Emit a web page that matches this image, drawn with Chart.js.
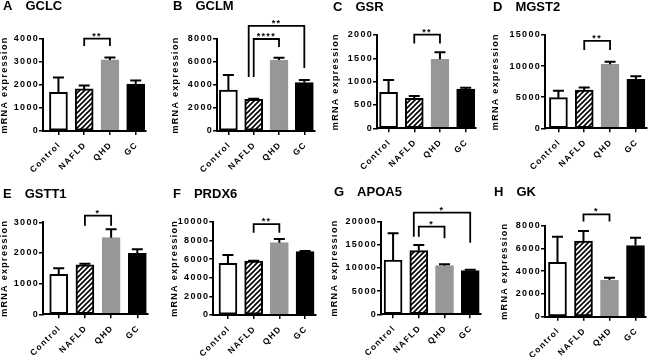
<!DOCTYPE html>
<html>
<head>
<meta charset="utf-8">
<script src="https://cdn.jsdelivr.net/npm/chart.js@4.4.1/dist/chart.umd.min.js"></script>
<style>
  html, body { margin: 0; padding: 0; background: #fff; overflow: hidden; }
  body { width: 650px; height: 357px; position: relative; }
  canvas { position: absolute; }
</style>
</head>
<body>
<script>
const groups = ['Control', 'NAFLD', 'QHD', 'GC'];
const letters = ['A', 'B', 'C', 'D', 'E', 'F', 'G', 'H'];
const genes = ['GCLC', 'GCLM', 'GSR', 'MGST2', 'GSTT1', 'PRDX6', 'APOA5', 'GK'];

// bar heights (mean) and the top of each error bar
const gclcMean = [1680, 1830, 3090, 2040],   gclcErr = [2330, 1980, 3200, 2200];
const gclmMean = [3560, 2750, 6170, 4200],   gclmErr = [4870, 2810, 6380, 4430];
const gsrMean = [771, 643, 1479, 843],       gsrErr = [1036, 693, 1629, 871];
const mgst2Mean = [4930, 6160, 10290, 7880], mgst2Err = [6050, 6540, 10710, 8360];
const gstt1Mean = [1300, 1610, 2500, 1990],  gstt1Err = [1500, 1650, 2770, 2120];
const prdx6Mean = [5540, 5790, 7750, 6790],  prdx6Err = [6430, 5820, 8140, 6860];
const apoa5Mean = [11730, 13740, 10500, 9420], apoa5Err = [17480, 14960, 10790, 9640];
const gkMean = [4780, 6650, 3225, 6250],     gkErr = [7030, 7540, 3430, 6950];

// y axis range and tick step
const yMax = [4000, 8000, 2000, 15000, 3000, 10000, 20000, 8000];
const yStep = [1000, 2000, 500, 5000, 1000, 2000, 5000, 2000];

// significance brackets: [from group, to group, bar level, left leg end, right leg end, stars]
const gclcSig = [[1, 2, 4020, 3700, 3700, '**']];
const gclmSig = [[1, 2, 8000, 4700, 7300, '****'], [1, 3, 9150, 4700, 5480, '**']];
const gsrSig = [[1, 2, 2010, 1820, 1820, '**']];
const mgst2Sig = [[1, 2, 14040, 12590, 12590, '**']];
const gstt1Sig = [[1, 2, 3220, 2890, 2890, '*']];
const prdx6Sig = [[1, 2, 9750, 8820, 8820, '**']];
const apoa5Sig = [[1, 2, 18920, 16760, 16400, '*'], [1, 3, 21940, 16760, 15470, '*']];
const gkSig = [[1, 2, 9000, 8360, 8360, '*']];

const means = [gclcMean, gclmMean, gsrMean, mgst2Mean, gstt1Mean, prdx6Mean, apoa5Mean, gkMean];
const errs = [gclcErr, gclmErr, gsrErr, mgst2Err, gstt1Err, prdx6Err, apoa5Err, gkErr];
const sigs = [gclcSig, gclmSig, gsrSig, mgst2Sig, gstt1Sig, prdx6Sig, apoa5Sig, gkSig];

// where each panel sits on the page (px)
const boxes = [
  {left: 3,   top: 0,   h: 182, axis: 43,    plotTop: 39,    plotBottom: 131,   right: 146,   xmin: -0.6,  xmax: 3.4,  ytx: 5,   tty: 6.5},
  {left: 173, top: 0,   h: 182, axis: 217,   plotTop: 39,    plotBottom: 131,   right: 314.7, xmin: -0.45, xmax: 3.41, ytx: 176, tty: 6.5},
  {left: 333, top: 0,   h: 182, axis: 377,   plotTop: 35,    plotBottom: 128.3, right: 476.2, xmin: -0.45, xmax: 3.41, ytx: 336, tty: 7},
  {left: 493, top: 0,   h: 182, axis: 545,   plotTop: 35,    plotBottom: 128.3, right: 646.7, xmin: -0.52, xmax: 3.42, ytx: 496, tty: 7},
  {left: 3,   top: 175, h: 182, axis: 43,    plotTop: 222.3, plotBottom: 314.3, right: 147.8, xmin: -0.6,  xmax: 3.4,  ytx: 5,   tty: 194},
  {left: 173, top: 175, h: 182, axis: 213.3, plotTop: 221.7, plotBottom: 315,   right: 316.1, xmin: -0.57, xmax: 3.43, ytx: 175, tty: 194},
  {left: 334, top: 175, h: 182, axis: 381,   plotTop: 221.7, plotBottom: 314.3, right: 480.5, xmin: -0.47, xmax: 3.4,  ytx: 335, tty: 192},
  {left: 494, top: 175, h: 182, axis: 545,   plotTop: 225.7, plotBottom: 316.7, right: 645.9, xmin: -0.48, xmax: 3.4,  ytx: 505, tty: 192}
];

const FAMILY = '"Liberation Sans", Arial, sans-serif';
Chart.defaults.font.family = FAMILY;
Chart.defaults.color = '#000';

function hatch() {
  const c = document.createElement('canvas');
  c.width = 5; c.height = 5;
  const g = c.getContext('2d');
  g.fillStyle = '#fff';
  g.fillRect(0, 0, 5, 5);
  g.strokeStyle = '#000';
  g.lineWidth = 1.6;
  g.beginPath();
  g.moveTo(-1, 6); g.lineTo(6, -1);
  g.moveTo(-1, 1); g.lineTo(1, -1);
  g.moveTo(4, 6); g.lineTo(6, 4);
  g.stroke();
  return g.createPattern(c, 'repeat');
}
const stripes = hatch();

// error bars + significance brackets, placed through the scales
function marks(errTop, brackets) {
  return {
    id: 'marks',
    beforeDraw(chart) { chart.ctx.letterSpacing = '0px'; },
    afterDatasetsDraw(chart) {
      const {ctx, scales: {x, y}} = chart;
      const bars = chart.getDatasetMeta(0).data;
      ctx.save();
      ctx.strokeStyle = '#000';
      ctx.lineWidth = 2;
      bars.forEach((bar, i) => {
        const t = y.getPixelForValue(errTop[i]);
        ctx.beginPath();
        ctx.moveTo(bar.x, bar.y); ctx.lineTo(bar.x, t);
        ctx.moveTo(bar.x - 5.5, t); ctx.lineTo(bar.x + 5.5, t);
        ctx.stroke();
      });
      ctx.lineWidth = 1.8;
      ctx.letterSpacing = '1.3px';
      ctx.font = 'bold 9px ' + FAMILY;
      ctx.fillStyle = '#000';
      ctx.textAlign = 'center';
      ctx.textBaseline = 'alphabetic';
      brackets.forEach(s => {
        const [a, b, lvl, endA, endB, stars] = s;
        const nested = brackets.some(o => o !== s && o[0] === a && o[1] < b);
        const xa = x.getPixelForValue(a) - (nested ? 5 : 0);
        const xb = x.getPixelForValue(b);
        const yt = y.getPixelForValue(lvl);
        ctx.beginPath();
        ctx.moveTo(xa, y.getPixelForValue(endA));
        ctx.lineTo(xa, yt);
        ctx.lineTo(xb, yt);
        ctx.lineTo(xb, y.getPixelForValue(endB));
        ctx.stroke();
        ctx.fillText(stars, (xa + xb) / 2, yt);
      });
      ctx.restore();
      // axis text (drawn after the bars) gets the same wide spacing
      ctx.letterSpacing = '1.3px';
    }
  };
}

const tickFont = {size: 9, weight: 'bold'};

boxes.forEach((b, k) => {
  const plotW = b.right - b.left;
  const cw = Math.ceil(plotW + 9);
  const canvas = document.createElement('canvas');
  canvas.width = cw;
  canvas.height = b.h;
  canvas.style.left = (b.left - 3) + 'px';
  canvas.style.top = b.top + 'px';
  canvas.style.width = cw + 'px';
  canvas.style.height = b.h + 'px';
  document.body.appendChild(canvas);

  const padTop = b.tty - b.top - 6.5;

  new Chart(canvas, {
    type: 'bar',
    data: {
      datasets: [{
        data: means[k].map((v, i) => ({x: i, y: v})),
        backgroundColor: ['#fff', stripes, '#979797', '#000'],
        borderColor: ['#000', '#000', '#979797', '#000'],
        borderWidth: 2,
        borderSkipped: false,
        barThickness: 18
      }]
    },
    options: {
      responsive: false,
      animation: false,
      devicePixelRatio: 1,
      layout: {padding: {left: 3, top: 0, bottom: 0, right: cw - plotW - 3}},
      plugins: {
        legend: {display: false},
        tooltip: {enabled: false},
        title: {
          display: true,
          text: letters[k] + '\u2002\u2002' + genes[k],
          align: 'start',
          color: '#000',
          font: {size: 13, weight: 'bold', lineHeight: 1},
          padding: {top: padTop, bottom: b.plotTop - b.top - padTop - 13}
        }
      },
      scales: {
        x: {
          type: 'linear',
          offset: false,
          min: b.xmin,
          max: b.xmax,
          afterBuildTicks: s => { s.ticks = groups.map((g, i) => ({value: i})); },
          afterFit: s => { s.height = b.top + b.h - b.plotBottom; },
          grid: {offset: false, drawOnChartArea: false, tickLength: 4, color: '#000', lineWidth: 1.5, z: 1},
          border: {color: '#000', width: 2, z: 1},
          ticks: {
            autoSkip: false, maxRotation: 45, minRotation: 45, padding: 5, labelOffset: 1,
            color: '#000', font: {size: 8.5, weight: 'bold'}, z: 1,
            callback: v => groups[v]
          }
        },
        y: {
          min: 0,
          max: yMax[k],
          afterFit: s => { s.width = b.axis - b.left; },
          grid: {drawOnChartArea: false, tickLength: 4, color: '#000', lineWidth: 1.5, z: 1},
          border: {color: '#000', width: 2, z: 1},
          ticks: {stepSize: yStep[k], padding: 0, color: '#000', font: tickFont, z: 1, callback: v => String(v)},
          title: {
            display: true,
            text: 'mRNA expression',
            color: '#000',
            font: {size: 9, weight: 'bold', lineHeight: 1.2},
            padding: {top: b.ytx - b.left - 5.4, bottom: 0}
          }
        }
      }
    },
    plugins: [marks(errs[k], sigs[k])]
  });
});
</script>
</body>
</html>
